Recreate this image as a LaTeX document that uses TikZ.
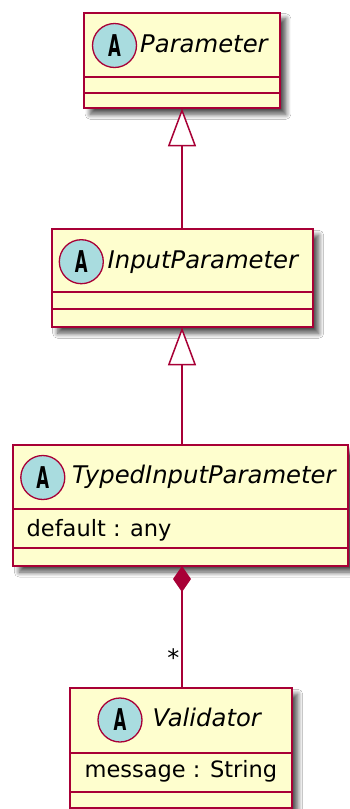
\documentclass[tikz,border=0pt]{standalone}
\usepackage{fontspec}
\setmainfont{DejaVu Sans}
\usetikzlibrary{arrows.meta,shadows.blur}
\definecolor{umlfill}{HTML}{FEFECE}
\definecolor{umlline}{HTML}{A80036}
\definecolor{umlcirc}{HTML}{A9DCDF}
\begin{document}
\begin{tikzpicture}[x=1pt,y=-1pt,
  classbox/.style={draw=umlline, fill=umlfill, line width=1.8pt, rectangle, inner sep=0pt, outer sep=0pt, anchor=north west,
    blur shadow={shadow xshift=6pt, shadow yshift=-6pt, shadow blur radius=5pt, shadow blur steps=10, shadow opacity=70}},
  divider/.style={draw=umlline, line width=1.8pt},
  badge/.style={circle, draw=umlline, fill=umlcirc, line width=1.3pt, minimum size=44pt, inner sep=0pt},
  cname/.style={anchor=base west, inner sep=0pt, font=\fontsize{24.3}{28}\selectfont\itshape},
  attr/.style={anchor=base west, inner sep=0pt, font=\fontsize{22.5}{26}\selectfont},
  link/.style={draw=umlline, line width=1.5pt}]
\newcommand{\absA}{\scalebox{0.55}[1]{\fontsize{30}{30}\selectfont\bfseries A}}
\useasboundingbox (0,0) rectangle (350,809);
\fill[white] (0,0) rectangle (350,809);
\coordinate (cx) at (182,0);

% Parameter
\node[classbox, minimum width=195.7pt, minimum height=95.6pt] (param) at (84.2,12.7) {};
\draw[divider] (84.2,76.7) -- (279.9,76.7);
\draw[divider] (84.2,93.3) -- (279.9,93.3);
\node[badge] (paramA) at (114.5,45.5) {\absA};
\node[cname] (paramN) at (140,52) {Parameter};

% InputParameter
\node[classbox, minimum width=261pt, minimum height=98pt] (input) at (51.7,229.3) {};
\draw[divider] (51.7,291.7) -- (312.7,291.7);
\draw[divider] (51.7,309.3) -- (312.7,309.3);
\node[badge] (inputA) at (81.3,261.7) {\absA};
\node[cname] (inputN) at (107.5,268.3) {InputParameter};

% TypedInputParameter
\node[classbox, minimum width=335pt, minimum height=121pt] (tip) at (13.3,445) {};
\draw[divider] (13.3,509.3) -- (348.3,509.3);
\draw[divider] (13.3,548.3) -- (348.3,548.3);
\node[badge] (tipA) at (42.8,477.5) {\absA};
\node[cname] (tipN) at (72,483.3) {TypedInputParameter};
\node[attr] (tipAttr) at (26.5,536) {default : any};

% Validator
\node[classbox, minimum width=221.7pt, minimum height=119.7pt] (val) at (70,688.3) {};
\draw[divider] (70,753.3) -- (291.7,753.3);
\draw[divider] (70,791.7) -- (291.7,791.7);
\node[badge] (valA) at (120,720) {\absA};
\node[cname] (valN) at (152.5,726.7) {Validator};
\node[attr] (valAttr) at (84.5,777.7) {message : String};

% connectors
\draw[link, -{Triangle[length=38pt, width=28pt, fill=white]}] (input.north -| cx) -- (param.south -| cx);
\draw[link, -{Triangle[length=38pt, width=28pt, fill=white]}] (tip.north -| cx) -- (input.south -| cx);
\draw[link, {Diamond[length=26pt, width=18pt, fill=umlline]}-] (tip.south -| cx) -- (val.north -| cx);
\node[anchor=base east, inner sep=0pt, font=\fontsize{24}{24}\selectfont] (mult) at (179.5,666.5) {*};
\end{tikzpicture}
\end{document}
